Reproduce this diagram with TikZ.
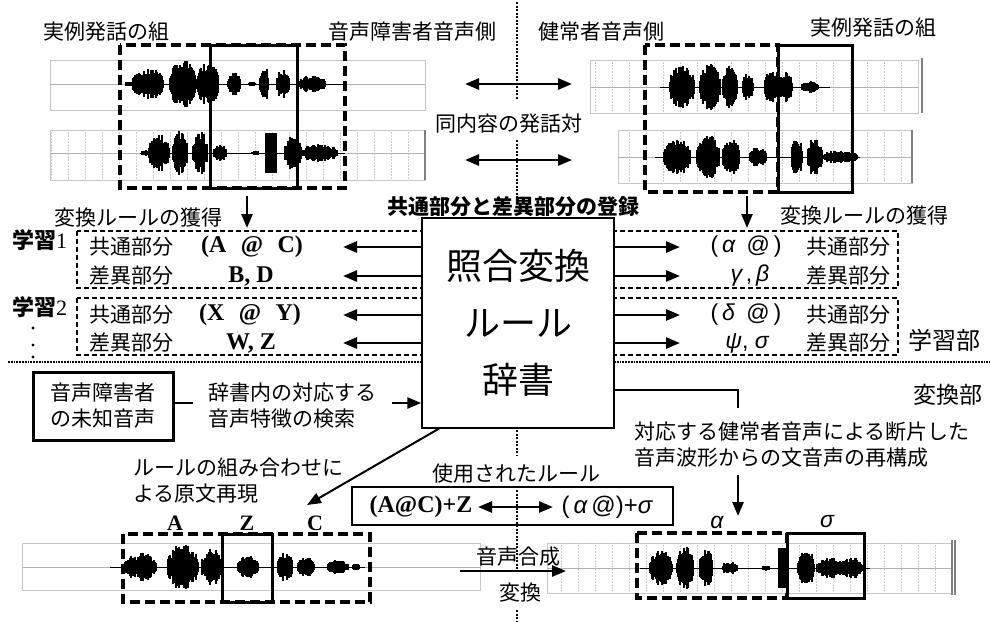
\documentclass[tikz,border=0pt]{standalone}
\usepackage{fontspec}
\setmainfont{Liberation Serif}
\newfontfamily\jp{Noto Sans CJK JP}
\newfontfamily\gk{Liberation Sans}
\usetikzlibrary{arrows.meta}

\newcommand\wvblob[4]{%
  \pgfmathtruncatemacro\wlo{-(#2)}%
  \pgfmathtruncatemacro\whi{#2}%
  \foreach \i in {\wlo,...,\whi}{%
    \pgfmathsetmacro\hh{(#3)*pow(max(0.0001,1-(\i)*(\i)/(((#2)+0.5)*((#2)+0.5))),0.4)*(0.5+0.55*rnd)+0.6}%
    \draw[wav] ({#1+(\i)},{#4-\hh}) -- ({#1+(\i)},{#4+\hh});
  }%
}
\newcommand\wvlist[2]{\foreach \xc/\hw/\am in {#2}{\wvblob{\xc}{\hw}{\am}{#1}}}
\newcommand\wvframe[6]{%
  \draw[frm] (#1,#2) rectangle (#3,#4);
  \ifnum#6=1 \draw[grd, xstep=17, ystep=10] (#1,#2) grid (#3,#4);\fi
  \draw[gray!60,line width=0.5pt] (#1,#5) -- (#3,#5);
}

\begin{document}
\begin{tikzpicture}[x=1pt,y=-1pt,
  jt/.style={font=\jp\fontsize{21}{26}\selectfont, inner sep=0pt},
  lt/.style={font=\fontsize{24}{28}\selectfont\bfseries, inner sep=0pt},
  gt/.style={font=\gk\fontsize{23}{26}\selectfont, inner sep=0pt},
  arr/.style={line width=2.6pt, -{Triangle[length=14pt,width=11pt]}},
  darr/.style={line width=2.6pt, {Triangle[length=14pt,width=11pt]}-{Triangle[length=14pt,width=11pt]}},
  wbox/.style={line width=3.4pt, dash pattern=on 10pt off 5pt},
  sbox/.style={line width=3pt},
  rbox/.style={line width=2pt, dash pattern=on 5pt off 3pt},
  vln/.style={line width=1.1pt, dash pattern=on 2pt off 1.5pt},
  hln/.style={line width=1.8pt, densely dotted},
  wav/.style={line width=1.1pt, black},
  frm/.style={draw=gray!45, line width=0.9pt},
  grd/.style={gray!40, line width=0.5pt, densely dotted},
  cl/.style={line width=2pt}
]
\useasboundingbox (0,0) rectangle (990,621);
\pgfmathsetseed{7}

% ---------- waveforms top left ----------
\wvframe{50}{60}{425}{110}{84}{0}
\draw[black,line width=0.6pt] (125,84) -- (345,84);
\wvlist{84}{129/3/2, 148/15/15, 183/13/22, 208/10/20, 234/6/12, 252/3/2, 264/4/18, 283/6/14, 312/13/8}
\wvframe{50}{130}{425}{180}{153}{1}
\draw[gray,line width=1.2pt] (425,130) -- (425,180);
\draw[black,line width=0.6pt] (140,153) -- (345,153);
\wvlist{153}{145/3/3, 159/10/17, 180/7/21, 200/7/20, 220/6/7, 255/3/2, 293/8/16, 320/17/8}
\fill (265,133) rectangle (277,173);

% ---------- waveforms top right ----------
\wvframe{590}{60}{918}{113}{87}{1}
\draw[gray,line width=1.2pt] (922,58) -- (922,113);
\draw[black,line width=0.6pt] (660,87) -- (830,87);
\wvlist{87}{682/12/20, 710/10/22, 730/7/20, 748/5/13, 771/6/15, 786/6/14, 810/8/5}
\wvframe{618}{130}{912}{183}{157}{1}
\draw[gray,line width=1.2pt] (912,130) -- (912,183);
\draw[black,line width=0.6pt] (655,157) -- (860,157);
\wvlist{157}{677/13/20, 708/11/21, 731/8/18, 758/8/9, 797/5/20, 815/7/18, 840/17/6}

% ---------- waveforms bottom ----------
\wvframe{22}{543}{480}{590}{567}{0}
\draw[black,line width=0.6pt] (110,567) -- (365,567);
\wvlist{567}{140/16/13, 183/15/21, 212/10/18, 248/10/10, 285/7/14, 306/8/10, 338/10/6, 356/3/3}
\wvframe{547}{543}{952}{593}{568}{1}
\draw[gray,line width=1.2pt] (952,540) -- (952,595);
\draw[gray,line width=1.2pt] (955,540) -- (955,595);
\draw[black,line width=0.6pt] (640,568) -- (870,568);
\wvlist{568}{661/11/16, 685/8/20, 706/6/19, 730/7/6, 766/3/2, 806/8/18, 830/13/9, 852/10/10}
\fill (778,548) rectangle (788,588);

% ---------- boxes on waveforms ----------
\draw[wbox] (120,45) rectangle (345,188);
\draw[sbox] (210,45) rectangle (297,188);
\draw[wbox] (645,45) rectangle (778,192);
\draw[sbox] (778,45) rectangle (852,192);
\draw[wbox] (123,534) rectangle (370,602);
\draw[sbox] (222,534) rectangle (272,602);
\draw[wbox] (637,533) rectangle (787,598);
\draw[sbox] (787,533) rectangle (864,598);

% ---------- dividing lines ----------
\draw[vln] (517,2) -- (517,100);
\draw[vln] (517,140) -- (517,198);
\draw[vln] (517,430) -- (517,455);
\draw[vln] (517,490) -- (517,572);
\draw[vln] (517,610) -- (517,621);
\draw[hln] (8,362) -- (422,362);
\draw[hln] (614,362) -- (990,362);

% ---------- top labels ----------
\node[jt] (lbl1) at (106,32) {実例発話の組};
\node[jt] (lbl2) at (412,32) {音声障害者音声側};
\node[jt] (lbl3) at (601,32) {健常者音声側};
\node[jt] (lbl4) at (873,28) {実例発話の組};
\node[jt] (same) at (509,124) {同内容の発話対};
\coordinate (da1) at (465,84); \coordinate (db1) at (572,84);
\coordinate (da2) at (465,160); \coordinate (db2) at (572,160);
\draw[darr] (da1) -- (db1);
\draw[darr] (da2) -- (db2);

% down arrows
\coordinate (dl0) at (247,196); \coordinate (dl1) at (247,228);
\coordinate (dr0) at (747,196); \coordinate (dr1) at (747,228);
\draw[arr] (dl0) -- (dl1);
\draw[arr] (dr0) -- (dr1);
\node[jt] (acqL) at (138,218) {変換ルールの獲得};
\node[jt] (acqR) at (864,216) {変換ルールの獲得};
\node[jt, font=\jp\bfseries\fontsize{21}{26}\selectfont] (reg) at (513,207) {共通部分と差異部分の登録};

% ---------- learning rows ----------
\draw[rbox] (77,231) rectangle (898,288);
\draw[rbox] (77,298) rectangle (898,355);

\node[draw, fill=white, line width=1.5pt, minimum width=192pt, minimum height=210pt,
      align=center, font=\jp\fontsize{36}{57}\selectfont, inner sep=0pt] (dict) at (518,323)
      {照合変換\\ルール\\辞書};

\foreach \yy [count=\k] in {247,276,315,343}{
  \coordinate (la\k) at (343,\yy);
  \coordinate (ra\k) at (680,\yy);
  \draw[arr] (dict.west |- la\k) -- (la\k);
  \draw[arr] (dict.east |- ra\k) -- (ra\k);
}

\node[anchor=west, inner sep=0pt, font=\fontsize{22}{26}\selectfont] (l1) at (12,240) {{\jp\bfseries 学習}1};
\node[anchor=west, inner sep=0pt, font=\fontsize{22}{26}\selectfont] (l2) at (12,307) {{\jp\bfseries 学習}2};
\fill (33,328) circle (1.6pt);
\fill (33,345) circle (1.6pt);
\fill (33,357) circle (1.6pt);

\node[jt] (c1) at (131,247) {共通部分};
\node[jt] (d1) at (131,276) {差異部分};
\node[jt] (c2) at (131,315) {共通部分};
\node[jt] (d2) at (131,343) {差異部分};
\node[lt] (c1v) at (252,247) {(A\hspace{0.6em}@\hspace{0.6em}C)};
\node[lt] (d1v) at (251,276) {B, D};
\node[lt] (c2v) at (250,315) {(X\hspace{0.6em}@\hspace{0.6em}Y)};
\node[lt] (d2v) at (251,343) {W, Z};

\node[jt] (c1r) at (848,247) {共通部分};
\node[jt] (d1r) at (848,276) {差異部分};
\node[jt] (c2r) at (848,315) {共通部分};
\node[jt] (d2r) at (848,343) {差異部分};
\node[gt] (c1rv) at (746,247) {(\,{\itshape α}\enspace@\,)};
\node[gt] (d1rv) at (750,276) {{\itshape γ}\,,\,{\itshape β}};
\node[gt] (c2rv) at (746,315) {(\,{\itshape δ}\enspace@\,)};
\node[gt] (d2rv) at (747,343) {{\itshape ψ}, {\itshape σ}};
\node[jt, font=\jp\fontsize{24}{28}\selectfont] (learn) at (944,340) {学習部};

% ---------- conversion part ----------
\node[jt, font=\jp\fontsize{23}{28}\selectfont] (conv) at (948,395) {変換部};
\node[draw, line width=3pt, minimum width=140pt, minimum height=68pt, align=center,
      font=\jp\fontsize{21}{26}\selectfont, inner sep=0pt] (unk) at (103,406) {音声障害者\\の未知音声};
\node[jt, align=left] (srch) at (292,406) {辞書内の対応する\\音声特徴の検索};
\coordinate (s0) at (193,403);
\coordinate (s1) at (392,403);
\draw[cl] (unk.east |- s0) -- (s0);
\draw[arr] (s1) -- (dict.west |- s1);

\coordinate (r0) at (738,390);
\coordinate (r1) at (738,408);
\draw[cl] (dict.east |- r0) -- (r0) -- (r1);
\node[jt, align=left] (recon) at (802,445) {対応する健常者音声による断片した\\音声波形からの文音声の再構成};
\coordinate (r2) at (738,475);
\coordinate (r3) at (738,516);
\draw[arr] (r2) -- (r3);

\coordinate (dg0) at (440,428);
\coordinate (dg1) at (307,505);
\draw[line width=2pt, -{Triangle[length=14pt,width=11pt]}] (dg0) -- (dg1);
\node[jt, align=left, anchor=west] (comb) at (133,481) {ルールの組み合わせに\\よる原文再現};

\node[jt] (used) at (516,474) {使用されたルール};
\draw[line width=1.8pt] (352,487) rectangle (673,525);
\node[lt] (ruleA) at (421,507) {(A@C)+Z};
\node[gt, font=\gk\fontsize{24}{28}\selectfont] (ruleB) at (607,507) {(\,{\itshape α}\,@)+{\itshape σ}};
\coordinate (ua) at (478,507);
\coordinate (ub) at (553,507);
\draw[darr] (ua) -- (ub);

\node[lt, font=\fontsize{22}{26}\selectfont\bfseries] (la) at (175,523) {A};
\node[lt, font=\fontsize{22}{26}\selectfont\bfseries] (lz) at (247,523) {Z};
\node[lt, font=\fontsize{22}{26}\selectfont\bfseries] (lc) at (315,523) {C};
\node[gt] (lal) at (717,522) {{\itshape α}};
\node[gt] (lsg) at (827,522) {{\itshape σ}};

\node[jt] (synth) at (518,557) {音声合成};
\coordinate (sy0) at (460,571);
\coordinate (sy1) at (566,571);
\draw[arr] (sy0) -- (sy1);
\node[jt] (hen) at (520,593) {変換};
\end{tikzpicture}
\end{document}
